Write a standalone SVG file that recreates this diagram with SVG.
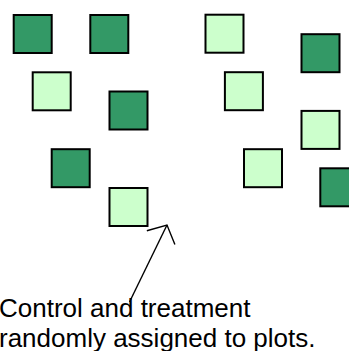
<svg xmlns="http://www.w3.org/2000/svg" width="349" height="351" viewBox="0 0 349 351">
  <style>
    .plot { stroke: #000; stroke-width: 2; }
    .treat { fill: #339966; }
    .ctrl { fill: #CCFFCC; }
    .conn { fill: none; stroke: #000; stroke-width: 1.4; }
    .label { font-family: "Liberation Sans", Arial, sans-serif; font-size: 26px; fill: #000; }
  </style>
  <defs>
    <marker id="open-arrow" markerUnits="userSpaceOnUse" markerWidth="40" markerHeight="40" viewBox="-20 -20 40 40" refX="0" refY="0" orient="auto" overflow="visible">
      <path d="M-14,-15.6 L0,0 L-14,15.6" fill="none" stroke="#000" stroke-width="1.4"/>
    </marker>
  </defs>

  <!-- treatment plots (dark) -->
  <g id="plot-d1"><rect class="plot treat" x="13.7" y="15" width="38" height="38"/></g>
  <g id="plot-d2"><rect class="plot treat" x="90.3" y="15" width="38" height="38"/></g>
  <g id="plot-d3"><rect class="plot treat" x="109.5" y="91.5" width="38" height="38"/></g>
  <g id="plot-d4"><rect class="plot treat" x="51.7" y="149.2" width="38" height="38"/></g>
  <g id="plot-d5"><rect class="plot treat" x="301.5" y="34.2" width="38" height="38"/></g>
  <g id="plot-d6"><rect class="plot treat" x="320.3" y="168.3" width="38" height="38"/></g>

  <!-- control plots (light) -->
  <g id="plot-c1"><rect class="plot ctrl" x="32.7" y="72.3" width="38" height="38"/></g>
  <g id="plot-c2"><rect class="plot ctrl" x="109.5" y="188" width="38" height="38"/></g>
  <g id="plot-c3"><rect class="plot ctrl" x="205.5" y="14.7" width="38" height="38"/></g>
  <g id="plot-c4"><rect class="plot ctrl" x="224.9" y="72.2" width="38" height="38"/></g>
  <g id="plot-c5"><rect class="plot ctrl" x="301.5" y="110.9" width="38" height="38"/></g>
  <g id="plot-c6"><rect class="plot ctrl" x="244" y="149.2" width="38" height="38"/></g>

  <!-- caption -->
  <g id="caption">
    <text class="label" x="-1" y="317">Control and treatment</text>
    <text class="label" x="-1" y="347">randomly assigned to plots.</text>
  </g>

  <!-- connectors -->
  <g id="connectors">
    <line class="conn" x1="129.5" y1="302" x2="167" y2="225" marker-end="url(#open-arrow)"/>
  </g>
</svg>
